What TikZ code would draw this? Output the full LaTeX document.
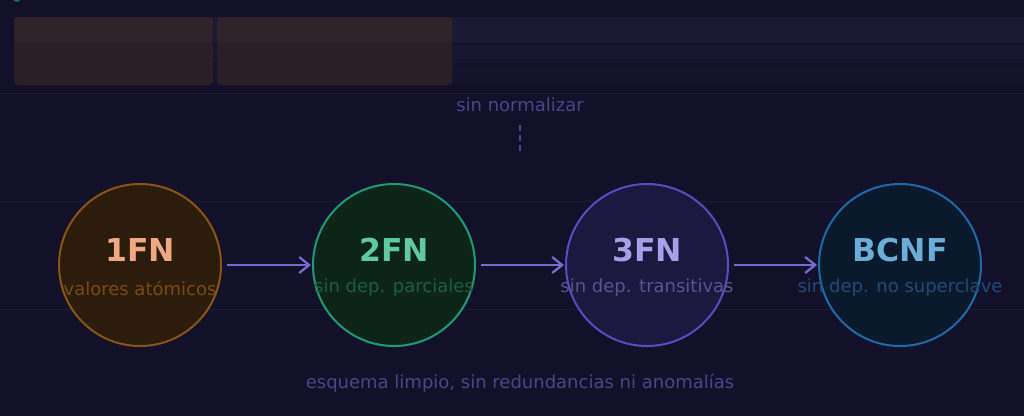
\documentclass[tikz,border=0pt]{standalone}
\usepackage{fontspec}
\setmainfont{DejaVu Sans}
\usetikzlibrary{arrows.meta}
\definecolor{bg}{HTML}{131129}
\definecolor{bandA}{HTML}{1B1933}
\definecolor{bandB}{HTML}{171530}
\definecolor{bandC}{HTML}{16142D}
\definecolor{brownA}{HTML}{2E2329}
\definecolor{brownB}{HTML}{2A1F27}
\definecolor{faint}{HTML}{1C1A34}
\definecolor{muted}{HTML}{4C4389}
\definecolor{dotc}{HTML}{1A6A5A}
\definecolor{arrowc}{HTML}{7A6AD0}
\definecolor{oFill}{HTML}{2C1C0C}\definecolor{oLine}{HTML}{8A5414}\definecolor{oTitle}{HTML}{F0A884}\definecolor{oSub}{HTML}{7A4A14}
\definecolor{gFill}{HTML}{0D2419}\definecolor{gLine}{HTML}{1F9A78}\definecolor{gTitle}{HTML}{5FC9A0}\definecolor{gSub}{HTML}{1E5C3F}
\definecolor{pFill}{HTML}{1C1840}\definecolor{pLine}{HTML}{5A4CC0}\definecolor{pTitle}{HTML}{A99EE8}\definecolor{pSub}{HTML}{5C528F}
\definecolor{bFill}{HTML}{0A1A2C}\definecolor{bLine}{HTML}{1E6AA8}\definecolor{bTitle}{HTML}{6AAED8}\definecolor{bSub}{HTML}{1F4A78}
\tikzset{
  stage/.style={circle, minimum size=162pt, inner sep=0pt, line width=2pt},
  ttl/.style={font=\bfseries\fontsize{31.5}{35}\selectfont, inner sep=0pt},
  sub/.style={font=\fontsize{18}{21}\selectfont, inner sep=0pt},
  note/.style={font=\fontsize{18}{21}\selectfont, text=muted, inner sep=0pt},
  arr/.style={draw=arrowc, line width=2.5pt, -{Straight Barb[length=10pt,width=16pt,line width=2.3pt]}},
  rule/.style={draw=faint, line width=1pt}
}
\begin{document}
\begin{tikzpicture}[x=1pt,y=-1pt]
\fill[bg] (0,0) rectangle (1024,416);
\useasboundingbox (0,0) rectangle (1024,416);
% top band
\fill[bandA] (14,17) rectangle (1024,43);
\fill[bandB] (14,45) rectangle (1024,63);
\fill[bandC] (14,66) rectangle (1024,85);
\fill[brownB, rounded corners=4pt] (14,17) rectangle (213,85);
\fill[brownB, rounded corners=4pt] (217,17) rectangle (452,85);
\fill[brownA, rounded corners=4pt] (14,17) rectangle (213,43);
\fill[brownA, rounded corners=4pt] (217,17) rectangle (452,43);
\fill[dotc] (17,-2) circle (4);
% faint rules
\draw[rule] (0,93) -- (1024,93);
\draw[rule] (0,201) -- (1024,201);
\draw[rule] (0,309) -- (1024,309);
% top note
\node[note] (top) at (520,105) {sin normalizar};
\coordinate (dashA) at (520,125);
\coordinate (dashB) at (520,153);
\draw[muted, line width=1.5pt, dash pattern=on 6pt off 4pt] (dashA) -- (dashB);
% stages
\node[stage, fill=oFill, draw=oLine] (c1) at (140,265) {};
\node[stage, fill=gFill, draw=gLine] (c2) at (394,265) {};
\node[stage, fill=pFill, draw=pLine] (c3) at (647,265) {};
\node[stage, fill=bFill, draw=bLine] (c4) at (900,265) {};
\node[ttl, text=oTitle] (t1) at (140,250) {1FN};
\node[ttl, text=gTitle] (t2) at (394,250) {2FN};
\node[ttl, text=pTitle] (t3) at (647,250) {3FN};
\node[ttl, text=bTitle] (t4) at (900,250) {BCNF};
\node[sub, text=oSub] (s1) at (140,288) {valores atómicos};
\node[sub, text=gSub] (s2) at (394,288) {sin dep. parciales};
\node[sub, text=pSub] (s3) at (647,288) {sin dep. transitivas};
\node[sub, text=bSub] (s4) at (900,288) {sin dep. no superclave};
% arrows
\draw[arr] ([xshift=5pt]c1.east) -- ([xshift=-1pt]c2.west);
\draw[arr] ([xshift=5pt]c2.east) -- ([xshift=-1pt]c3.west);
\draw[arr] ([xshift=5pt]c3.east) -- ([xshift=-1pt]c4.west);
% bottom note
\node[note] (bottom) at (520,383) {esquema limpio, sin redundancias ni anomalías};
\end{tikzpicture}
\end{document}
